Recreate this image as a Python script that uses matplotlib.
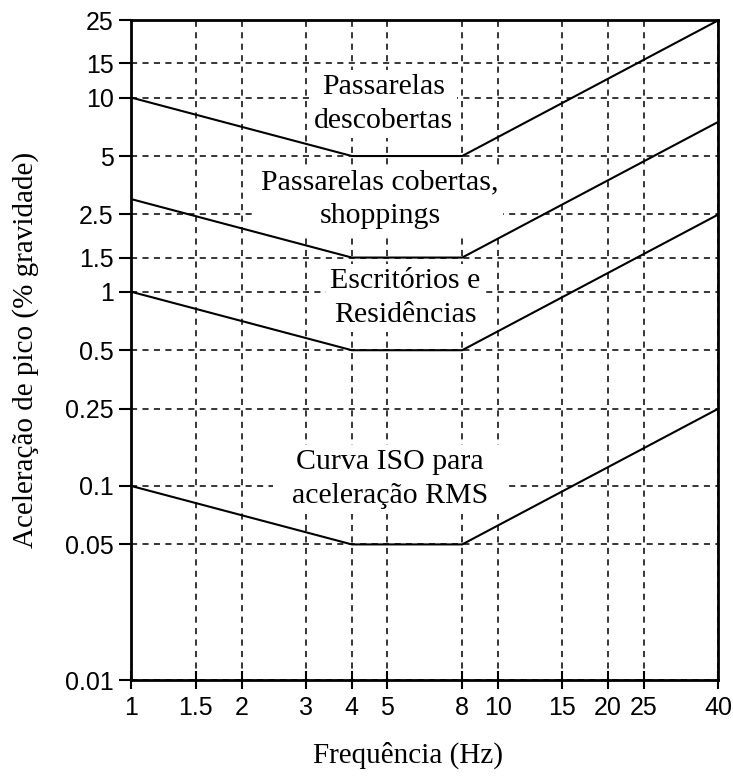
import numpy as np
import matplotlib
matplotlib.use("Agg")
import matplotlib.pyplot as plt
from matplotlib.ticker import FixedLocator, FixedFormatter, NullLocator

# limit curves (frequency in Hz, peak acceleration in % g)
freq = [1, 4, 8, 40]
passarelas_descobertas = [10, 5, 5, 25]
passarelas_cobertas = [3, 1.5, 1.5, 7.5]
escritorios = [1, 0.5, 0.5, 2.5]
curva_iso = [0.1, 0.05, 0.05, 0.25]

x_ticks = [1, 1.5, 2, 3, 4, 5, 8, 10, 15, 20, 25, 40]
x_labels = ["1", "1.5", "2", "3", "4", "5", "8", "10", "15", "20", "25", "40"]
y_ticks = [0.01, 0.05, 0.1, 0.25, 0.5, 1, 1.5, 2.5, 5, 10, 15, 25]
y_labels = ["0.01", "0.05", "0.1", "0.25", "0.5", "1", "1.5", "2.5", "5", "10", "15", "25"]

# label text and where it sits (data coords)
curve_labels = ["Passarelas\ndescobertas",
                "Passarelas cobertas,\nshoppings",
                "Escritórios e\nResidências",
                "  Curva ISO para  \n  aceleração RMS  "]
label_x = [4.87, 4.78, 5.6, 5.09]
label_y = [9.3, 2.99, 0.93, 0.108]

serif = "Liberation Serif"
sans = "Liberation Sans"

fig = plt.figure(figsize=(7.33, 7.8), dpi=100)
ax = fig.add_axes([0.179, 0.128, 0.801, 0.846])

ax.set_xscale("log")
ax.set_yscale("log")
ax.set_xlim(1, 40)
ax.set_ylim(0.01, 25)

for curve in [passarelas_descobertas, passarelas_cobertas, escritorios, curva_iso]:
    ax.plot(freq, curve, color="black", lw=1.5, zorder=3)

ax.xaxis.set_major_locator(FixedLocator(x_ticks))
ax.xaxis.set_major_formatter(FixedFormatter(x_labels))
ax.yaxis.set_major_locator(FixedLocator(y_ticks))
ax.yaxis.set_major_formatter(FixedFormatter(y_labels))
ax.xaxis.set_minor_locator(NullLocator())
ax.yaxis.set_minor_locator(NullLocator())

ax.grid(True, which="major", color="black", lw=1.1, linestyle=(0, (4, 3.5)), zorder=1)
ax.set_axisbelow(True)

ax.tick_params(axis="x", direction="inout", length=13, width=1.5, labelsize=18, pad=5)
ax.tick_params(axis="y", direction="out", length=9, width=1.5, labelsize=18, pad=3.5)
for lab in ax.get_xticklabels() + ax.get_yticklabels():
    lab.set_fontfamily(sans)
for sp in ax.spines.values():
    sp.set_linewidth(2)

# white boxes hide the grid but sit under the curves
for txt, x, y in zip(curve_labels, label_x, label_y):
    ax.text(x, y, txt, ha="center", va="center", multialignment="center",
            fontsize=21.5, family=serif, linespacing=1.4, zorder=2,
            bbox=dict(facecolor="white", edgecolor="none", pad=3))

ax.set_xlabel("Frequência (Hz)", fontsize=21, family=serif, va="center")
ax.xaxis.set_label_coords((408 - 131) / 587, (680 - 755) / 660)
ax.set_ylabel("Aceleração de pico (% gravidade)", fontsize=21, family=serif, va="center")
ax.yaxis.set_label_coords((25 - 131) / 587, 0.5)

fig.savefig("out.png", dpi=100)
